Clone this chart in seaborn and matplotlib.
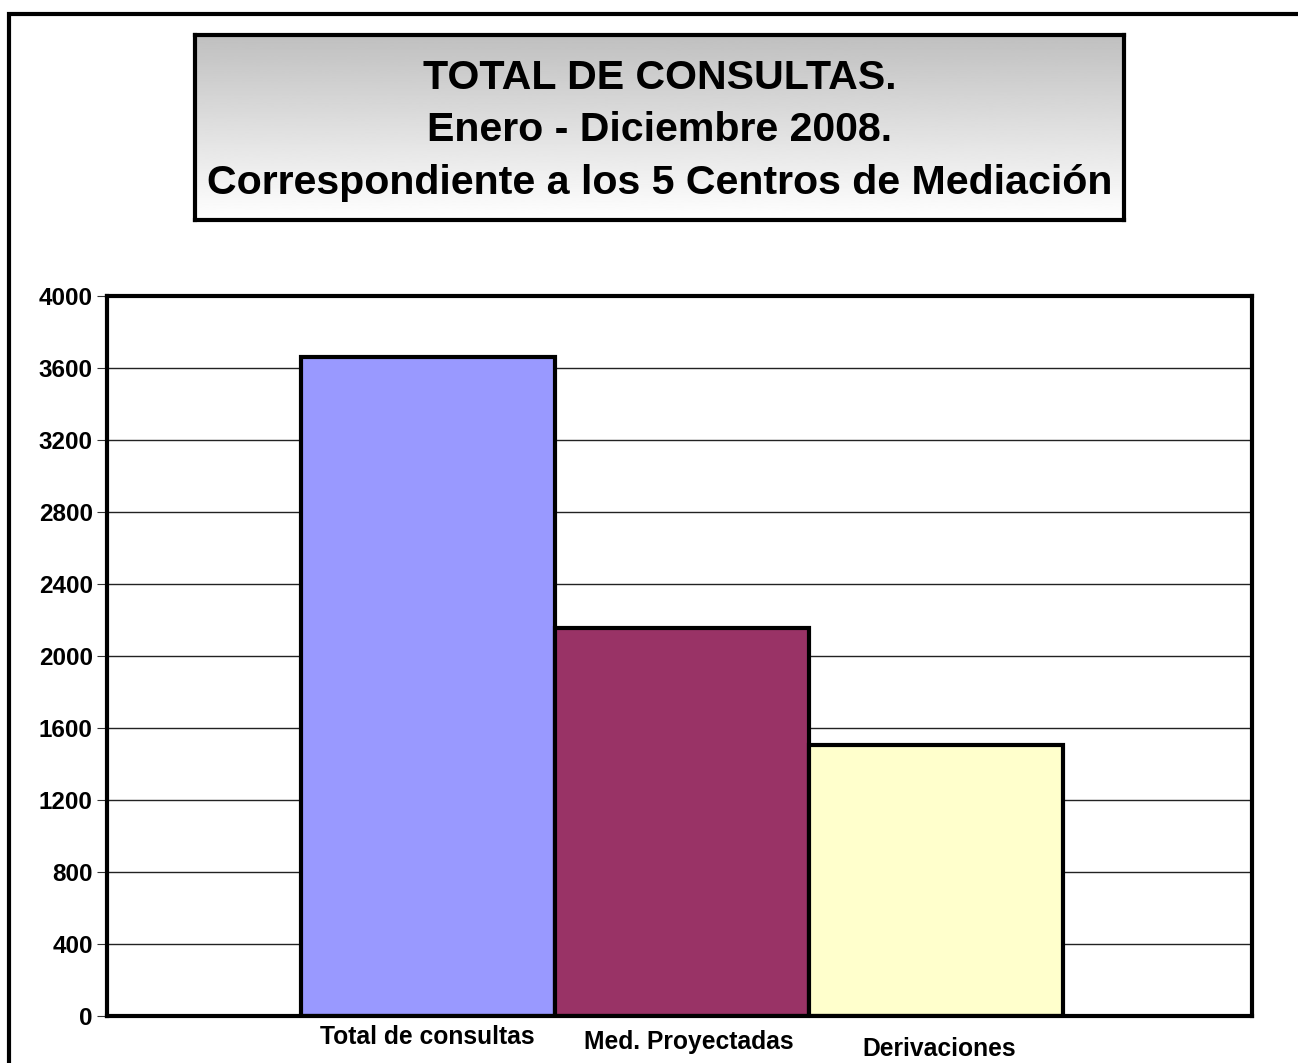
import numpy as np
import pandas as pd
import matplotlib
matplotlib.use("Agg")
import matplotlib.pyplot as plt
import matplotlib.patches as mpatches
import seaborn as sns

# ---------------------------------------------------------
#                 DATA
# ---------------------------------------------------------
categorias = ["Total de consultas", "Med. Proyectadas", "Derivaciones"]
valores = [3660, 2155, 1505]
colores = ["#9999FF", "#993366", "#FFFFCC"]
y_ticks = list(range(0, 4001, 400))
titulo = ["TOTAL DE CONSULTAS.",
          "Enero - Diciembre 2008.",
          "Correspondiente a los 5 Centros de Mediación"]

df = pd.DataFrame({"grupo": ["2008"] * len(categorias),
                   "categoria": categorias,
                   "valor": valores})

# ---------------------------------------------------------
#                 STYLE
# ---------------------------------------------------------
sns.set_style("white")
plt.rcParams["font.family"] = ["Liberation Sans", "DejaVu Sans"]
plt.rcParams["font.weight"] = "bold"
plt.rcParams["text.color"] = "black"
plt.rcParams["ytick.color"] = "black"
plt.rcParams["ytick.labelcolor"] = "black"

W, H = 1298, 1063
fig = plt.figure(figsize=(W / 100, H / 100), dpi=100)
fig.patch.set_facecolor("white")

# outer frame (runs off the right and bottom edges)
fig.add_artist(mpatches.Rectangle((9 / W, -0.05), 1.1, 1 - 14 / H + 0.05,
                                  transform=fig.transFigure, fill=False,
                                  edgecolor="black", linewidth=3, clip_on=False))

# ---------------------------------------------------------
#                 MAIN BAR CHART
# ---------------------------------------------------------
ax = fig.add_axes([107 / W, 1 - 1016 / H, (1252 - 107) / W, (1016 - 296) / H])
sns.barplot(data=df, x="grupo", y="valor", hue="categoria",
            hue_order=categorias, palette=colores, width=0.666, gap=0,
            edgecolor="black", linewidth=3, saturation=1, legend=False, ax=ax)

ax.set_xlim(-0.502, 0.498)
ax.set_ylim(0, 4000)
ax.set_yticks(y_ticks)
ax.set_yticklabels([str(t) for t in y_ticks], fontsize=17.5, fontweight="bold",
                   color="black")
ax.set_xticks([])
ax.set_xlabel("")
ax.set_ylabel("")
ax.yaxis.grid(True, color="#222222", linewidth=1)
ax.set_axisbelow(True)
ax.tick_params(axis="y", length=7.2, width=0.8, pad=3, left=True, color="#333333")
for sp in ax.spines.values():
    sp.set_visible(True)
    sp.set_color("black")
    sp.set_linewidth(3)

# staggered category labels under each bar
offsets = [(0, 6.5), (5, 10), (2, 15)]
for patch, label, (dx, dy) in zip(ax.patches, categorias, offsets):
    cx = patch.get_x() + patch.get_width() / 2
    ax.annotate(label, xy=(cx, 0), xytext=(dx, -dy), textcoords="offset points",
                ha="center", va="top", fontsize=17.7, fontweight="bold",
                color="black", annotation_clip=False)

# ---------------------------------------------------------
#                 TITLE BOX
# ---------------------------------------------------------
tax = fig.add_axes([195 / W, 1 - 220 / H, (1124 - 195) / W, (220 - 35) / H])
grad = np.linspace(0.75, 1.0, 256).reshape(-1, 1)
tax.imshow(grad, cmap="gray", vmin=0, vmax=1, aspect="auto",
           extent=[0, 1, 0, 1], origin="upper")
tax.set_xlim(0, 1)
tax.set_ylim(0, 1)
tax.set_xticks([])
tax.set_yticks([])
for sp in tax.spines.values():
    sp.set_visible(True)
    sp.set_color("black")
    sp.set_linewidth(3)

for i, line in enumerate(titulo):
    tax.text(0.5, 0.77 - i * 0.285, line, ha="center", va="center",
             fontsize=29.6, fontweight="bold", color="black",
             transform=tax.transAxes)

fig.savefig("out.png", dpi=100, facecolor="white")
